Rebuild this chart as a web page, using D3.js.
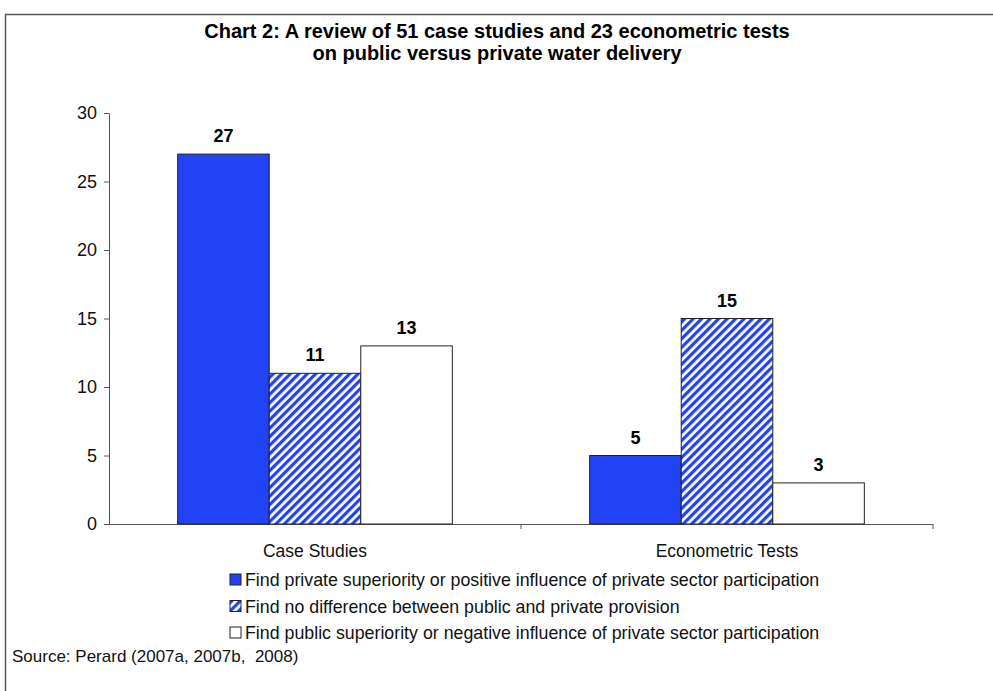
<!DOCTYPE html>
<html>
<head>
<meta charset="utf-8">
<script src="https://cdn.jsdelivr.net/npm/d3@7"></script>
<style>
  body { margin: 0; background: #fff; }
  text { font-family: Arial, "Liberation Sans", sans-serif; white-space: pre; }
</style>
</head>
<body>
<svg id="chart" width="993" height="691"></svg>
<script>
const categories = ['Case Studies', 'Econometric Tests'];
const seriesNames = [
  'Find private superiority or positive influence of private sector participation',
  'Find no difference between public and private provision',
  'Find public superiority or negative influence of private sector participation',
];
const privateBetter = [27, 5];
const noDifference = [11, 15];
const publicBetter = [13, 3];
const yTicks = [0, 5, 10, 15, 20, 25, 30];

const series = [privateBetter, noDifference, publicBetter];
const fills = ['#2142f5', 'url(#hatch)', '#ffffff'];

const svg = d3.select('#chart');

// hatch pattern for the middle series
svg.append('defs')
  .append('pattern')
  .attr('id', 'hatch')
  .attr('patternUnits', 'userSpaceOnUse')
  .attr('width', 6)
  .attr('height', 6)
  .attr('patternTransform', 'rotate(45)')
  .call(p => {
    p.append('rect').attr('width', 6).attr('height', 6).attr('fill', '#fff');
    p.append('rect').attr('width', 3.2).attr('height', 6).attr('fill', '#2142f5');
  });

// outer frame (right side is cut off in the picture)
svg.append('path')
  .attr('d', 'M 5.5 760 L 5.5 14.5 L 993 14.5')
  .attr('fill', 'none')
  .attr('stroke', '#555')
  .attr('stroke-width', 1.5);

svg.append('text')
  .attr('x', 497).attr('y', 38)
  .attr('text-anchor', 'middle')
  .attr('font-size', 20).attr('font-weight', 'bold')
  .text('Chart 2: A review of 51 case studies and 23 econometric tests');
svg.append('text')
  .attr('x', 497).attr('y', 60)
  .attr('text-anchor', 'middle')
  .attr('font-size', 20).attr('font-weight', 'bold')
  .text('on public versus private water delivery');

const plot = { left: 109, right: 933, top: 113, bottom: 524 };

const y = d3.scaleLinear().domain([0, 30]).range([plot.bottom, plot.top]);
const x0 = d3.scaleBand().domain(categories).range([plot.left, plot.right]);
const x1 = d3.scaleBand().domain(d3.range(series.length))
  .range([0, x0.bandwidth()]).paddingOuter(0.75).paddingInner(0);

// y axis
const yAxis = svg.append('g')
  .attr('transform', `translate(${plot.left},0)`)
  .call(d3.axisLeft(y).tickValues(yTicks).tickSize(5).tickSizeOuter(0));
yAxis.select('.domain').attr('stroke', '#555');
yAxis.selectAll('.tick line').attr('stroke', '#555');
yAxis.selectAll('.tick text')
  .attr('font-size', 18).attr('fill', '#111')
  .attr('font-family', 'Arial, "Liberation Sans", sans-serif')
  .attr('x', -12);

// x axis line with category boundary ticks
svg.append('line')
  .attr('x1', plot.left).attr('x2', plot.right)
  .attr('y1', plot.bottom + 0.5).attr('y2', plot.bottom + 0.5)
  .attr('stroke', '#555');
svg.selectAll('.xtick')
  .data(categories.map(c => x0(c) + x0.bandwidth()))
  .enter().append('line')
  .attr('class', 'xtick')
  .attr('x1', d => d).attr('x2', d => d)
  .attr('y1', plot.bottom).attr('y2', plot.bottom + 5)
  .attr('stroke', '#555');
svg.selectAll('.xlabel')
  .data(categories)
  .enter().append('text')
  .attr('class', 'xlabel')
  .attr('x', d => x0(d) + x0.bandwidth() / 2)
  .attr('y', 557)
  .attr('text-anchor', 'middle')
  .attr('font-size', 17.5).attr('fill', '#111')
  .text(d => d);

// bars
const bars = [];
categories.forEach((c, ci) => {
  series.forEach((s, si) => bars.push({ c, si, v: s[ci] }));
});

svg.selectAll('.bar')
  .data(bars)
  .enter().append('rect')
  .attr('class', 'bar')
  .attr('x', d => x0(d.c) + x1(d.si))
  .attr('width', x1.bandwidth())
  .attr('y', d => y(d.v))
  .attr('height', d => y(0) - y(d.v))
  .attr('fill', d => fills[d.si])
  .attr('stroke', '#222')
  .attr('stroke-width', 1);

svg.selectAll('.val')
  .data(bars)
  .enter().append('text')
  .attr('class', 'val')
  .attr('x', d => x0(d.c) + x1(d.si) + x1.bandwidth() / 2)
  .attr('y', d => y(d.v) - 12)
  .attr('text-anchor', 'middle')
  .attr('font-size', 18).attr('font-weight', 'bold')
  .text(d => d.v);

// legend
const legend = svg.selectAll('.legend')
  .data(seriesNames)
  .enter().append('g')
  .attr('class', 'legend')
  .attr('transform', (d, i) => `translate(230,${574 + i * 26.5})`);
legend.append('rect')
  .attr('width', 11).attr('height', 11)
  .attr('fill', (d, i) => fills[i])
  .attr('stroke', '#222');
legend.append('text')
  .attr('x', 15).attr('y', 12)
  .attr('font-size', 17.8).attr('fill', '#111')
  .text(d => d);

svg.append('text')
  .attr('x', 12).attr('y', 662)
  .attr('font-size', 17).attr('fill', '#111')
  .text('Source: Perard (2007a, 2007b,  2008)');
</script>
</body>
</html>
